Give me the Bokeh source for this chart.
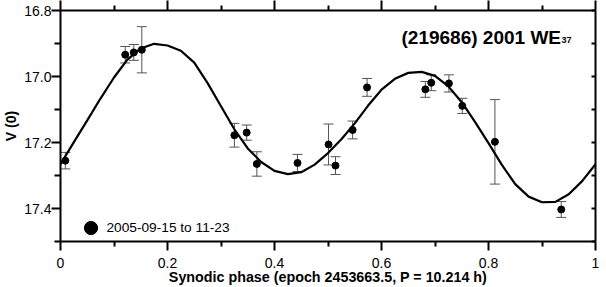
import numpy as np
from bokeh.plotting import figure
from bokeh.models import (Range1d, FixedTicker, LinearAxis, Whisker, TeeHead,
                          ColumnDataSource, Legend, LegendItem, Label)
from bokeh.embed import file_html
from bokeh.resources import INLINE

# ---- data ----
phase = [0.009, 0.121, 0.137, 0.152, 0.325, 0.348, 0.367, 0.443, 0.501,
         0.514, 0.546, 0.573, 0.682, 0.693, 0.726, 0.751, 0.812, 0.936]
mag = [17.255, 16.934, 16.927, 16.919, 17.178, 17.170, 17.265, 17.262, 17.206,
       17.270, 17.162, 17.033, 17.039, 17.019, 17.021, 17.089, 17.198, 17.403]
err = [0.025, 0.025, 0.024, 0.070, 0.036, 0.023, 0.037, 0.026, 0.062,
       0.027, 0.027, 0.027, 0.024, 0.024, 0.026, 0.023, 0.128, 0.024]

fit_phase = [0.000, 0.025, 0.050, 0.075, 0.100, 0.125, 0.150, 0.175, 0.200,
             0.225, 0.250, 0.275, 0.300, 0.325, 0.350, 0.375, 0.400, 0.425,
             0.450, 0.475, 0.500, 0.525, 0.550, 0.575, 0.600, 0.625, 0.650,
             0.675, 0.700, 0.725, 0.750, 0.775, 0.800, 0.825, 0.850, 0.875,
             0.900, 0.925, 0.950, 0.975, 1.000]
fit_mag = [17.266, 17.199, 17.133, 17.066, 17.003, 16.949, 16.915, 16.901, 16.906,
           16.922, 16.958, 17.020, 17.090, 17.160, 17.218, 17.259, 17.286, 17.296,
           17.290, 17.267, 17.232, 17.190, 17.142, 17.088, 17.040, 17.007, 16.989,
           16.986, 16.998, 17.030, 17.078, 17.138, 17.202, 17.268, 17.326, 17.364,
           17.381, 17.380, 17.357, 17.317, 17.266]

x_ticks = [0.0, 0.2, 0.4, 0.6, 0.8, 1.0]
x_tick_labels = ["0", "0.2", "0.4", "0.6", "0.8", "1"]
x_minor = [0.1, 0.3, 0.5, 0.7, 0.9]
y_ticks = [16.8, 17.0, 17.2, 17.4]
y_tick_labels = ["16.8", "17.0", "17.2", "17.4"]
y_minor = [16.9, 17.1, 17.3, 17.5]

title_main = "(219686) 2001 WE"
title_sub = "37"
legend_label = "2005-09-15 to 11-23"
x_label = "Synodic phase (epoch 2453663.5, P = 10.214 h)"
y_label = "V (0)"

FONT = "Liberation Sans"

p = figure(width=606, height=287, x_range=Range1d(0, 1), y_range=Range1d(17.5, 16.8),
           output_backend="svg", toolbar_location=None,
           min_border_left=60, min_border_right=11, min_border_top=10, min_border_bottom=46)
p.grid.visible = False
p.outline_line_color = None
p.background_fill_color = "white"
p.border_fill_color = "white"

xt = FixedTicker(ticks=x_ticks, minor_ticks=x_minor)
yt = FixedTicker(ticks=y_ticks, minor_ticks=y_minor)


def style(ax, tick_out, minor_out, tick_in=0, minor_in=0):
    ax.axis_line_color = "black"
    ax.axis_line_width = 2
    ax.major_tick_line_color = "black"
    ax.minor_tick_line_color = "black"
    ax.major_tick_line_width = 2
    ax.minor_tick_line_width = 2
    ax.major_tick_out = tick_out
    ax.major_tick_in = tick_in
    ax.minor_tick_out = minor_out
    ax.minor_tick_in = minor_in
    ax.major_label_text_font = FONT
    ax.major_label_text_font_size = "14px"
    ax.major_label_text_color = "black"
    ax.axis_label_text_font = FONT
    ax.axis_label_text_font_size = "14px"
    ax.axis_label_text_font_style = "bold"
    ax.axis_label_text_color = "black"


xa = p.xaxis[0]
xa.ticker = xt
xa.major_label_overrides = {t: l for t, l in zip(x_ticks, x_tick_labels)}
style(xa, 9, 5)
xa.major_label_standoff = 7
xa.axis_label = x_label
xa.axis_label_text_font_size = "14.3px"
xa.axis_label_standoff = -2

ya = p.yaxis[0]
ya.ticker = yt
ya.major_label_overrides = {t: l for t, l in zip(y_ticks, y_tick_labels)}
style(ya, 9, 6)
ya.major_label_standoff = 0
ya.axis_label = y_label
ya.axis_label_standoff = 2

top = LinearAxis(ticker=xt)
style(top, 10, 5)
top.major_label_overrides = {t: "" for t in x_ticks}
top.major_label_standoff = -5
p.add_layout(top, "above")

right = LinearAxis(ticker=yt)
style(right, 0, 0, 4, 4)
right.major_label_overrides = {t: "" for t in y_ticks}
right.major_label_standoff = -5
p.add_layout(right, "right")

# error bars
lo = (np.array(mag) + np.array(err)).tolist()
up = (np.array(mag) - np.array(err)).tolist()
src = ColumnDataSource(dict(x=phase, y=mag, lo=lo, up=up))
ebar_col = "#555555"
wh = Whisker(source=src, base="x", upper="up", lower="lo", dimension="height",
             line_color=ebar_col, line_width=1,
             upper_head=TeeHead(size=10, line_color=ebar_col, line_width=1),
             lower_head=TeeHead(size=10, line_color=ebar_col, line_width=1))
p.add_layout(wh)

# fitted curve
p.line(fit_phase, fit_mag, line_color="black", line_width=2.2, line_join="round")

# points
pts = p.scatter("x", "y", source=src, size=7, fill_color="black", line_color="black")

# legend
leg = Legend(items=[LegendItem(label=legend_label, renderers=[pts])],
             location=(13.5, -2.5), glyph_width=33, glyph_height=33, label_height=33,
             padding=0, margin=0, spacing=0, border_line_color=None,
             background_fill_alpha=0, label_standoff=0,
             label_text_font=FONT, label_text_font_size="13.7px", label_text_color="black")
p.add_layout(leg)

# title with subscript
p.add_layout(Label(x=341, y=203.7, x_units="screen", y_units="screen", text=title_main,
                   text_font=FONT, text_font_size="19px", text_font_style="bold",
                   text_color="black", text_baseline="alphabetic"))
p.add_layout(Label(x=501, y=201.7, x_units="screen", y_units="screen", text=title_sub,
                   text_font=FONT, text_font_size="9px", text_font_style="bold",
                   text_color="black", text_baseline="alphabetic"))

open("out.html", "w").write(file_html(p, INLINE))
